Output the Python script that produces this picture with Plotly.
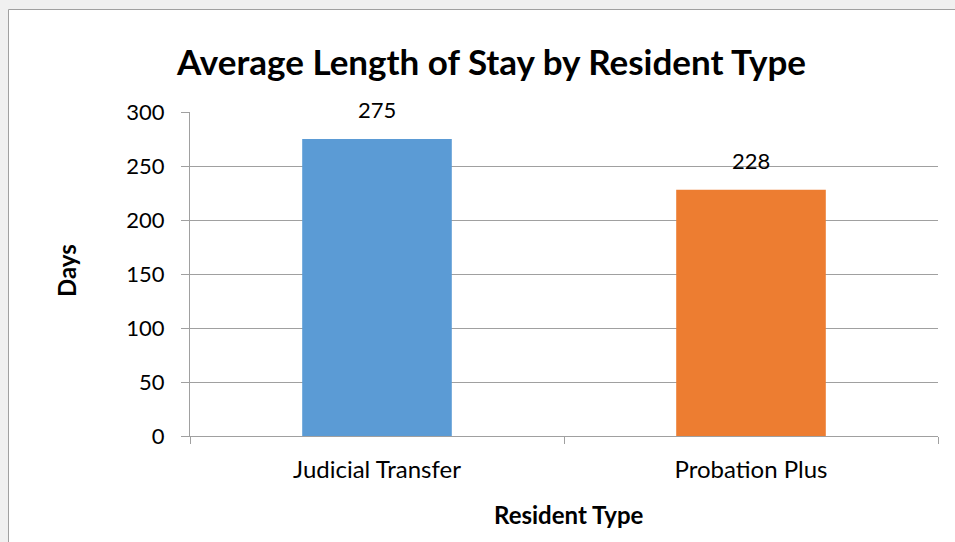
import plotly.graph_objects as go

categories = ["Judicial Transfer", "Probation Plus"]
values = [275, 228]
colors = ["#5b9bd5", "#ed7d31"]
y_ticks = [0, 50, 100, 150, 200, 250, 300]

FONT = "Lato, Carlito, Calibri, sans-serif"
L, R, T, B = 190, 17, 112, 106
W, H = 955, 542
pw, ph = W - L - R, H - T - B

def px_x(p):
    return (p - L) / pw

def px_y(p):
    return (H - B - p) / ph

fig = go.Figure()
fig.add_trace(go.Bar(
    x=categories, y=values, marker=dict(color=colors, line=dict(width=0)),
    width=0.4, hoverinfo="skip",
))

for c, v in zip(categories, values):
    fig.add_annotation(x=c, y=v, text=str(v), showarrow=False, yanchor="bottom",
                       yshift=14, font=dict(family=FONT, size=22, color="#000000"))

fig.add_annotation(xref="paper", yref="paper", x=px_x(491), y=px_y(61),
                   xanchor="center", yanchor="middle",
                   text="<b>Average Length of Stay by Resident Type</b>", showarrow=False,
                   font=dict(family=FONT, size=35, color="#000000"))
fig.add_annotation(xref="paper", yref="paper", x=px_x(569), y=px_y(514),
                   xanchor="center", yanchor="middle",
                   text="<b>Resident Type</b>", showarrow=False,
                   font=dict(family=FONT, size=24, color="#000000"))
fig.add_annotation(xref="paper", yref="paper", x=px_x(66), y=px_y(271),
                   xanchor="center", yanchor="middle",
                   text="<b>Days</b>", showarrow=False, textangle=-90,
                   font=dict(family=FONT, size=24, color="#000000"))

fig.add_shape(type="rect", xref="paper", yref="paper", layer="below",
              x0=px_x(8.5), x1=px_x(990), y0=px_y(600), y1=px_y(9.5),
              fillcolor="#ffffff", line=dict(color="#a0a0a0", width=1))

fig.update_layout(
    width=W, height=H, margin=dict(l=L, r=R, t=T, b=B),
    paper_bgcolor="#f0f0f0", plot_bgcolor="rgba(0,0,0,0)",
    showlegend=False, bargap=0.6,
    font=dict(family=FONT, size=22, color="#000000"),
    xaxis=dict(showgrid=False, showline=True, linecolor="#a0a0a0", linewidth=1,
               ticks="outside", tickson="boundaries", ticklen=7, tickcolor="#a0a0a0",
               tickfont=dict(family=FONT, size=24, color="#000000"), fixedrange=True,
               ticklabelstandoff=12),
    yaxis=dict(range=[0, 300], tickvals=y_ticks, showgrid=True, gridcolor="#a0a0a0",
               gridwidth=1, showline=True, linecolor="#a0a0a0", linewidth=1,
               ticks="outside", ticklen=8, tickcolor="#a0a0a0", zeroline=False,
               tickfont=dict(family=FONT, size=22, color="#000000"), ticklabelstandoff=12),
)

fig.write_html("out.html", config={"displayModeBar": False},
               post_script="document.body.style.margin='0';document.body.style.overflow='hidden';")
